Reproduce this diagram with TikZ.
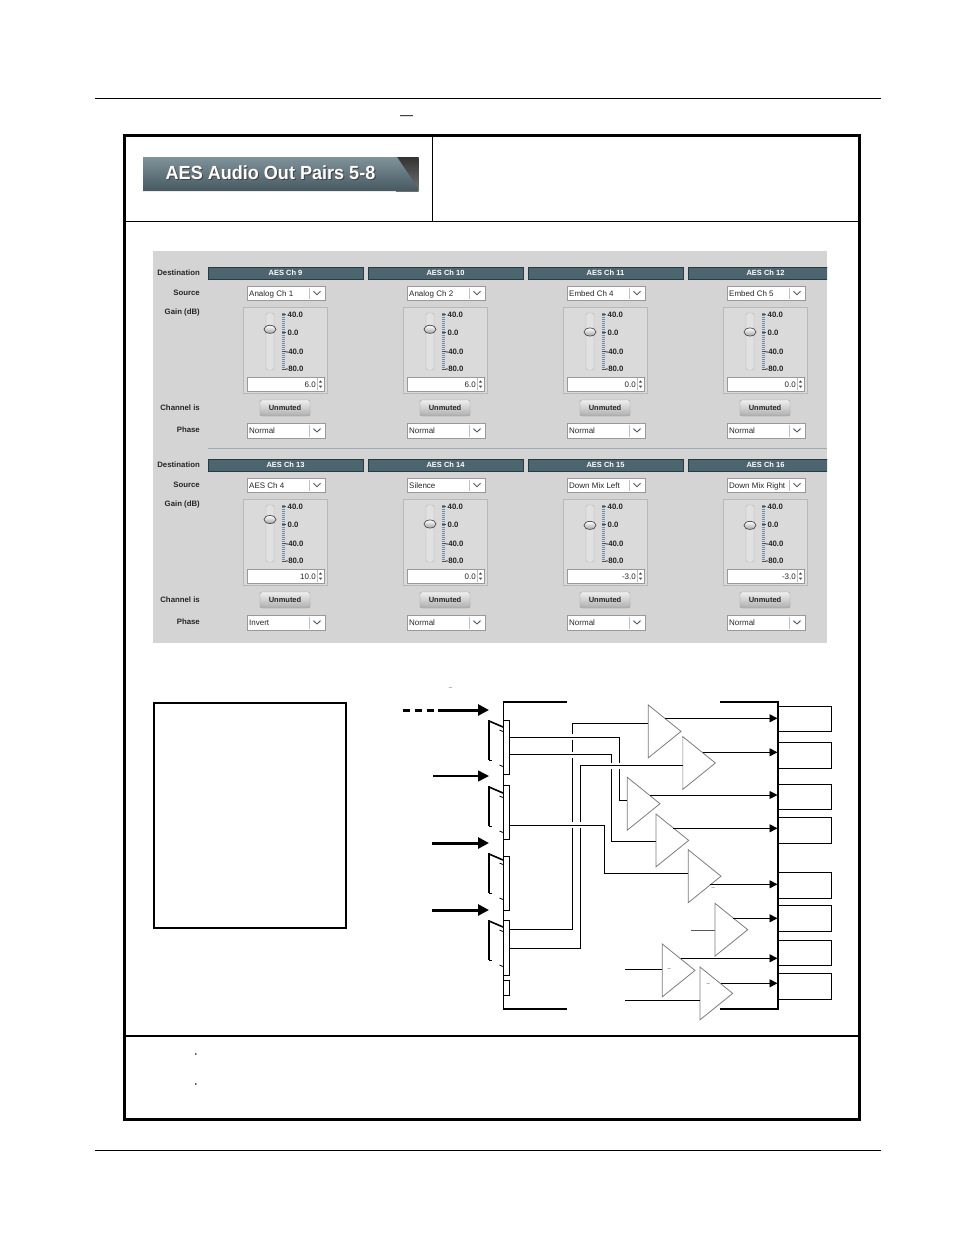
\documentclass[tikz,border=0pt]{standalone}
\usepackage{fontspec}
\setmainfont{Liberation Sans}
\usepackage{tikz}
\usetikzlibrary{arrows.meta, positioning}
\usepackage{xcolor}

\definecolor{guibg}{RGB}{212,212,212}
\definecolor{slate}{RGB}{76,101,110}
\definecolor{slatedk}{RGB}{42,58,65}
\definecolor{tabtop}{RGB}{128,146,154}
\definecolor{tabbot}{RGB}{70,88,96}
\definecolor{tickblue}{RGB}{118,138,158}
\definecolor{ampgray}{RGB}{125,125,125}

\begin{document}
\begin{tikzpicture}[x=1pt, y=-1pt,
    lbl/.style={anchor=base east, inner sep=0pt, font=\fontsize{7.8}{9}\selectfont\bfseries, text=black!85},
    hdr/.style={anchor=base, inner sep=0pt, font=\fontsize{7.5}{9}\selectfont\bfseries, text=white},
    guitext/.style={inner sep=0pt, font=\fontsize{8}{9}\selectfont, text=black!85},
    scaletext/.style={anchor=base west, inner sep=0pt, font=\fontsize{7.8}{9}\selectfont\bfseries, text=black!85},
    field/.style={fill=white, draw=black!40, line width=0.6pt},
    chevron/.style={draw=tickblue!70!black, line width=1pt},
    wire/.style={line width=0.8pt},
    feed/.style={line width=3pt, -{Triangle[length=11pt, width=11pt]}},
    outarrow/.style={line width=0.9pt, -{Triangle[length=8pt, width=8pt]}},
    amp/.style={draw=ampgray, line width=0.8pt},
    busbar/.style={draw, line width=0.9pt, inner sep=0pt, outer sep=0pt, minimum width=6pt, anchor=north west},
    outbox/.style={draw, line width=0.9pt, inner sep=0pt, outer sep=0pt, minimum width=54.2pt, anchor=north west},
    block/.style={line width=2pt},
    minusmark/.style={inner sep=0pt, font=\fontsize{6}{7}\selectfont, text=black!70}
  ]
  \useasboundingbox (0,0) rectangle (954,1235);
  \fill[white] (0,0) rectangle (954,1235);

  % page rules
  \draw[line width=1pt] (95,98.3) -- (881,98.3);
  \draw[line width=1pt] (95,1150) -- (881,1150);
  \node[inner sep=0pt, font=\fontsize{13}{14}\selectfont] (capdash) at (406.5,118) {—};

  % frame
  \draw[line width=3pt] (124,135) rectangle (859.5,1119.5);
  \draw[line width=1.3pt] (124,221.7) -- (859.5,221.7);
  \draw[line width=1.3pt] (432.5,135) -- (432.5,221.7);
  \draw[line width=1.3pt] (124,1036) -- (859.5,1036);
  \node[inner sep=0pt, font=\fontsize{6}{7}\selectfont] (dot1) at (196,1055) {•};
  \node[inner sep=0pt, font=\fontsize{6}{7}\selectfont] (dot2) at (196,1085) {•};

  % title tab
  \shade[top color=black!80, bottom color=black!55] (396,157) rectangle (418.5,191);
  \shade[top color=tabtop, bottom color=tabbot] (143,157) -- (397,157) -- (418.5,189) -- (418.5,191) -- (143,191) -- cycle;
  \node[font=\fontsize{19}{21}\selectfont\bfseries, text=black!75, xscale=0.95] (titleshadow) at (271.5,173.3) {AES Audio Out Pairs 5-8};
  \node[font=\fontsize{19}{21}\selectfont\bfseries, text=white, xscale=0.95] (title) at (270.5,172.3) {AES Audio Out Pairs 5-8};

  % control panel screenshot
  \begin{scope}
    \clip (153,251) rectangle (827,642.5);
    \fill[guibg] (153,251) rectangle (827,642.5);
    \draw[line width=1.5pt, draw=slate!55] (208,448.3) -- (827,448.3);
    \foreach \dy [count=\r] in {0,192}{
      \node[lbl] (dst\r) at (200,275.8+\dy) {Destination};
      \node[lbl] (srclbl\r) at (200,295.8+\dy) {Source};
      \node[lbl] (gainlbl\r) at (200,314.8+\dy) {Gain (dB)};
      \node[lbl] (chlbl\r) at (200,410.8+\dy) {Channel is};
      \node[lbl] (phlbl\r) at (200,432.8+\dy) {Phase};
    }
    \foreach \dx/\dy/\ch/\src/\gain/\ph [count=\n] in {
        0/0/9/Analog Ch 1/6.0/Normal, 160/0/10/Analog Ch 2/6.0/Normal,
        320/0/11/Embed Ch 4/0.0/Normal, 480/0/12/Embed Ch 5/0.0/Normal,
        0/192/13/AES Ch 4/10.0/Invert, 160/192/14/Silence/0.0/Normal,
        320/192/15/Down Mix Left/-3.0/Normal, 480/192/16/Down Mix Right/-3.0/Normal}{
      \begin{scope}[shift={(\dx,\dy)}]
        % destination header
        \draw[fill=slate, draw=slatedk, line width=0.8pt] (208,267) rectangle (363,279);
        \node[hdr] (hdr\n) at (285.5,275.7) {AES Ch \ch};
        % source box
        \draw[field] (247,286) rectangle (325,300);
        \draw[black!25] (309,287.5) -- (309,298.5);
        \draw[chevron] (313.5,291.3) -- (317,294.7) -- (320.5,291.3);
        \node[guitext, anchor=base west] (src\n) at (249,296) {\src};
        % gain slider
        \draw[draw=black!28, fill=guibg!85!white] (243,307) rectangle (327,393);
        \draw[draw=black!30, fill=guibg!70!white, rounded corners=1.5pt] (266,313) rectangle (274,370);
        \foreach \t in {0,...,28}
          \draw[tickblue, line width=0.5pt] (282,313+2*\t) -- (284.5,313+2*\t);
        \foreach \yy in {314,332,351,369}
          \draw[tickblue!60!black, line width=0.6pt] (282,\yy) -- (286,\yy);
        \node[scaletext] (top\n) at (287.5,317.5) {40.0};
        \node[scaletext] (mid\n) at (287.5,335) {0.0};
        \node[scaletext] (low\n) at (285.5,354) {-40.0};
        \node[scaletext] (bot\n) at (285.5,371.8) {-80.0};
        \shade[top color=white, bottom color=black!35, draw=black!70, line width=0.7pt]
          (270,{332-0.45*(\gain)}) ellipse [x radius=6pt, y radius=4pt];
        \draw[field] (247,377) rectangle (324,391);
        \draw[black!25] (317,378) -- (317,390);
        \fill[black!70] (318.8,382.6) -- (322.2,382.6) -- (320.5,380.4) -- cycle;
        \fill[black!70] (318.8,385.6) -- (322.2,385.6) -- (320.5,387.8) -- cycle;
        \node[guitext, anchor=base east] (val\n) at (316,387) {\gain};
        % mute button
        \draw[draw=black!40, rounded corners=2pt, top color=black!6, bottom color=black!32] (260,400) rectangle (310,416);
        \node[hdr, text=black!85] (btn\n) at (285,410.7) {Unmuted};
        % phase box
        \draw[field] (247,423) rectangle (325,438);
        \draw[black!25] (309,424.5) -- (309,436.5);
        \draw[chevron] (313.5,428.6) -- (317,432) -- (320.5,428.6);
        \node[guitext, anchor=base west] (ph\n) at (249,433.5) {\ph};
      \end{scope}
    }
  \end{scope}

  % signal flow diagram
  \draw[line width=2.2pt] (154.3,703.3) rectangle (346.3,927.7);
  \node[minusmark] (flowdash) at (450.5,689) {–};

  % routing block outline
  \draw[line width=0.9pt] (503,702) -- (503,1009);
  \draw[block] (503,702) -- (567,702);
  \draw[block] (503,1009) -- (567,1009);
  \draw[block] (720,702) -- (777.5,702) -- (777.5,1009) -- (720,1009);

  % bus bars
  \node[busbar, minimum height=54pt] (bus1) at (503,720) {};
  \node[busbar, minimum height=54pt] (bus2) at (503,785) {};
  \node[busbar, minimum height=54pt] (bus3) at (503,856) {};
  \node[busbar, minimum height=55pt] (bus4) at (503,920) {};
  \node[busbar, minimum height=15pt] (bus5) at (503,980) {};

  % inputs
  \coordinate (srcA) at (403,710);
  \coordinate (srcA2) at (438,710);
  \coordinate (srcB) at (433,776);
  \coordinate (srcC) at (432,843);
  \coordinate (srcD) at (432,910);
  \coordinate (sw1) at (489,710);
  \coordinate (sw2) at (489,776);
  \coordinate (sw3) at (489,843);
  \coordinate (sw4) at (489,910);
  \draw[line width=3pt, dash pattern=on 7pt off 5pt] (srcA) -- (434,710);
  \draw[feed] (srcA2) -- (sw1);
  \draw[feed, line width=1.5pt] (srcB) -- (sw2);
  \draw[feed] (srcC) -- (sw3);
  \draw[feed] (srcD) -- (sw4);

  % switch contacts
  \foreach \y/\w in {710/2.5, 776/1.3, 843/2.5, 910/2.5}{
    \draw[line width=\w pt] (489,\y+10) -- (489,\y+50);
    \draw[line width=1.6pt] (489,\y+11) -- (503,\y+17);
    \draw[line width=0.8pt] (489,\y+50) -- (492,\y+50);
    \draw[line width=0.8pt] (499.5,\y+20) -- (503,\y+21.5);
    \draw[line width=0.8pt] (499.5,\y+55) -- (503,\y+56.5);
  }

  % amplifiers
  \foreach \n/\lx/\cy in {1/648.3/731.4, 2/682.7/763, 3/627.3/803.7, 4/656/840.4,
                          5/688.3/876.2, 6/715/929.7, 7/662.3/970.4, 8/700/993.4}{
    \draw[amp] (\lx,\cy-26.4) -- (\lx+32.7,\cy) -- (\lx,\cy+26.4) -- cycle;
  }
  \draw[black!18, line width=1.5pt] (682.7,738) -- (682.7,788);
  \draw[black!18, line width=1.5pt] (715,904.5) -- (715,955);
  \node[minusmark] (m5) at (713.3,888.3) {–};
  \node[minusmark] (m7) at (669.3,970) {–};
  \node[minusmark] (m8) at (708.3,985) {–};

  % amplifier inputs
  \coordinate (in1) at (648.3,723.3);
  \coordinate (in2) at (682.7,765.7);
  \coordinate (in3) at (627.3,800.3);
  \coordinate (in4) at (656,841.7);
  \coordinate (in5) at (688.3,873.3);
  \coordinate (in6) at (715,930);
  \coordinate (in7) at (662.3,969);
  \coordinate (in8) at (700,1000.7);
  \coordinate (tapA) at (509,737.3);
  \coordinate (tapB) at (509,754.7);
  \coordinate (tapE) at (509,825.3);
  \coordinate (tapC) at (509,929.3);
  \coordinate (tapD) at (509,948.3);
  \coordinate (src6) at (691,930);
  \coordinate (src7) at (625,969);
  \coordinate (src8) at (625,1000.7);

  \draw[wire] (tapC) -- ++(63.7,0) |- (in1);
  \draw[wire] (tapD) -- ++(71.3,0) |- (in2);
  \draw[wire] (tapA) -- ++(110,0) |- (in3);
  \draw[wire] (tapB) -- ++(102.7,0) |- (in4);
  \draw[wire] (tapE) -- ++(95.3,0) |- (in5);
  \draw[wire, black!65] (src6) -- (in6);
  \draw[wire] (src7) -- (in7);
  \draw[wire] (src8) -- (in8);

  % wire crossings
  \foreach \x/\y in {572.7/737.3, 572.7/754.7, 572.7/825.3, 580.3/825.3, 611.7/765.7, 619/765.7}{
    \fill[white] (\x-1.6,\y-3) rectangle (\x+1.6,\y+3);
    \draw[wire] (\x-2.5,\y) -- (\x+2.5,\y);
  }

  % outputs
  \foreach \n/\t/\b in {1/706.7/731, 2/742.3/768.3, 3/784.3/809, 4/817.7/843.3,
                        5/872.3/898.3, 6/905.7/931.3, 7/940.7/965.3, 8/973.3/999.3}{
    \node[outbox, minimum height={\b-\t}] (box\n) at (777.5,\t) {};
  }
  \foreach \n/\x/\y in {1/665/718.3, 2/703.3/752.3, 3/650/795, 4/673.3/828.3,
                        5/710/884.3, 6/733.3/918.3, 7/680.7/958.3, 8/721/983.3}{
    \coordinate (out\n) at (\x,\y);
    \draw[outarrow] (out\n) -- (out\n -| box\n.west);
  }
\end{tikzpicture}
\end{document}
